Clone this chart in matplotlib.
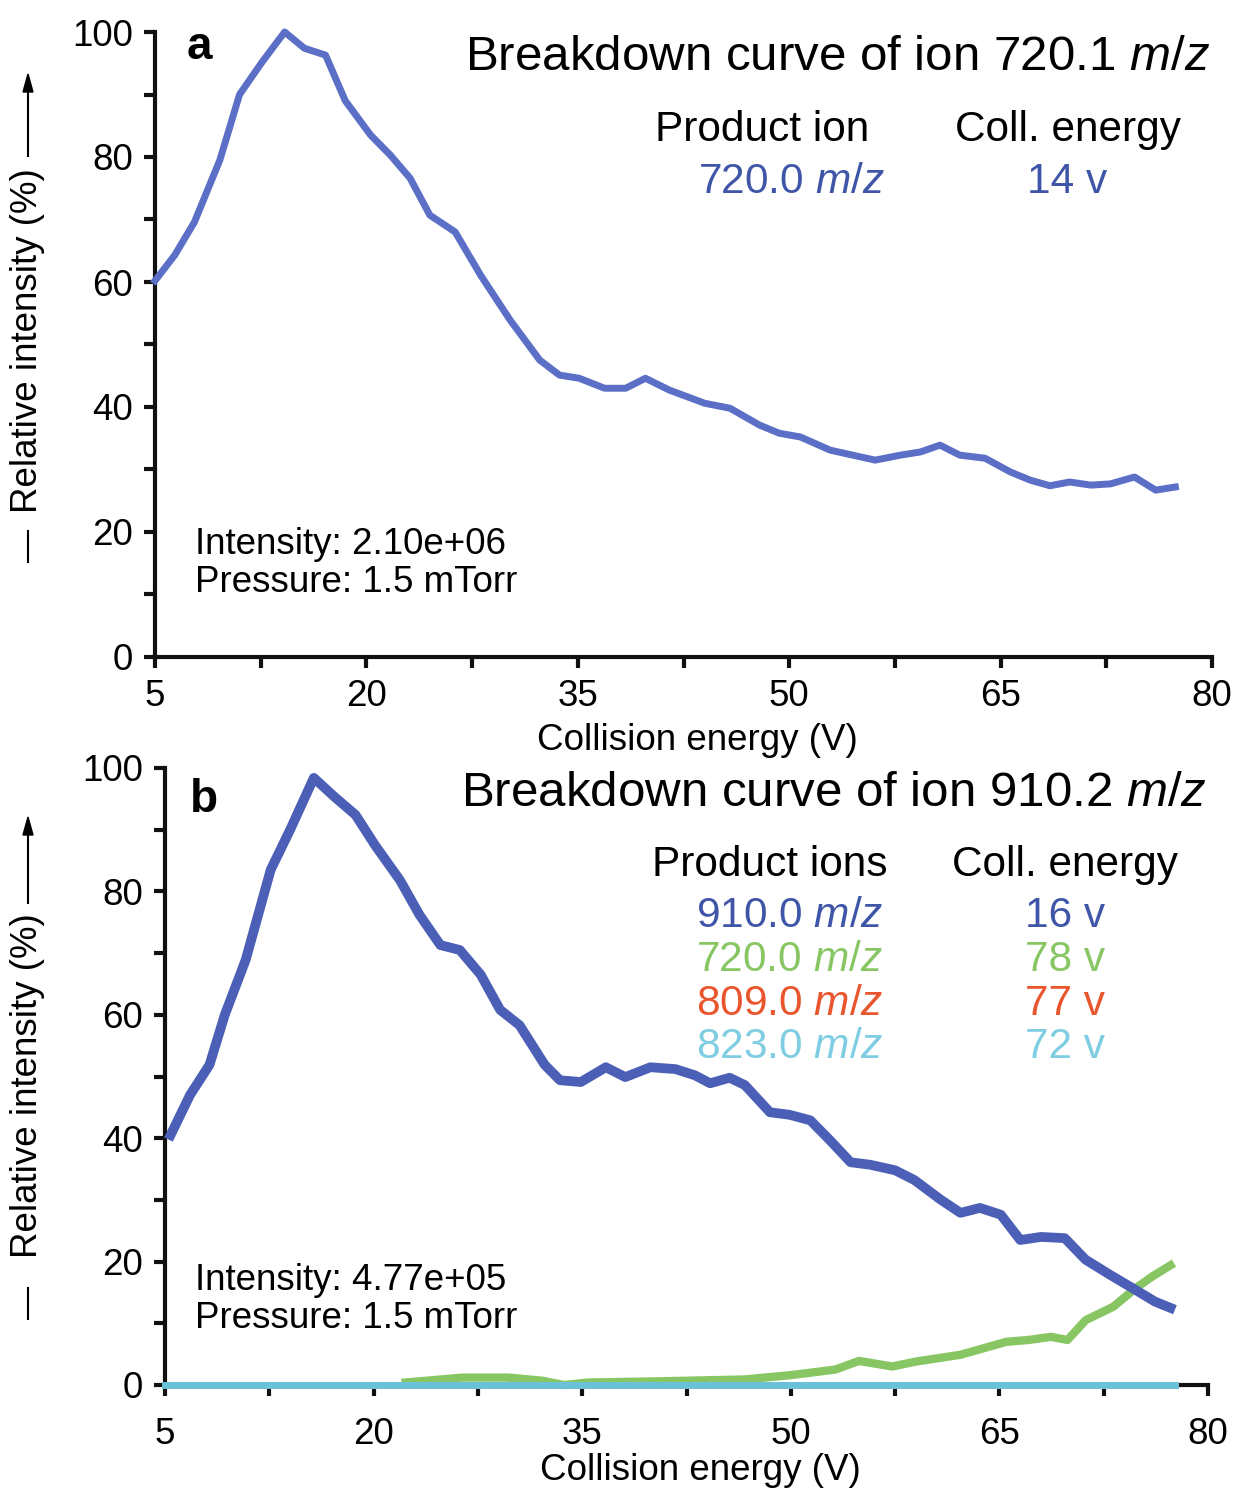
import numpy as np
import matplotlib.pyplot as plt

plt.rcParams['font.family'] = ['Liberation Sans', 'DejaVu Sans']
plt.rcParams['mathtext.fontset'] = 'custom'
plt.rcParams['mathtext.rm'] = 'Liberation Sans'
plt.rcParams['mathtext.it'] = 'Liberation Sans:italic'

# panel a: breakdown of ion 720.1 m/z (product 720.0)
a_energy = [5.0, 6.4, 7.8, 9.6, 11.0, 12.6, 14.2, 15.6, 17.1, 18.5, 20.3, 21.7, 23.1,
            24.5, 26.3, 28.1, 30.2, 32.3, 33.7, 35.1, 36.9, 38.4, 39.8, 41.5, 44.0,
            45.8, 47.9, 49.3, 50.8, 52.9, 54.7, 56.1, 57.9, 59.3, 60.7, 62.1, 63.9,
            65.7, 67.1, 68.5, 69.9, 71.4, 72.8, 74.5, 76.0, 77.4]
a_720 = [60.2, 64.3, 69.6, 79.5, 90.0, 95.2, 100.0, 97.4, 96.3, 89.0, 83.5, 80.3, 76.6,
         70.7, 68.0, 61.1, 53.9, 47.5, 45.1, 44.6, 43.0, 43.0, 44.6, 42.7, 40.6,
         39.8, 37.1, 35.8, 35.2, 33.1, 32.2, 31.5, 32.3, 32.8, 33.9, 32.3, 31.8,
         29.6, 28.3, 27.4, 28.0, 27.5, 27.7, 28.8, 26.7, 27.2]

# panel b: breakdown of ion 910.2 m/z
b_energy = [5.4, 6.8, 8.2, 9.3, 10.8, 12.6, 14.0, 15.7, 17.2, 18.7, 20.1, 21.9, 23.3,
            24.8, 26.2, 27.7, 29.1, 30.5, 32.3, 33.4, 34.9, 36.7, 38.1, 39.9, 41.7,
            43.1, 44.2, 45.6, 46.7, 48.5, 49.9, 51.4, 52.8, 54.3, 55.7, 57.5, 58.9,
            60.8, 62.2, 63.6, 65.1, 66.5, 68.0, 69.7, 71.2, 73.0, 74.8, 76.2, 77.3]
b_910 = [40.5, 47.0, 51.9, 60.0, 68.9, 83.5, 90.0, 98.4, 95.3, 92.4, 87.5, 81.8, 76.2,
         71.3, 70.5, 66.5, 60.8, 58.3, 51.9, 49.4, 49.1, 51.5, 49.9, 51.5, 51.2,
         50.2, 48.9, 49.8, 48.6, 44.2, 43.8, 42.9, 39.7, 36.1, 35.7, 34.8, 33.2,
         30.0, 27.9, 28.7, 27.6, 23.5, 24.0, 23.8, 20.3, 17.8, 15.4, 13.5, 12.5]

g_energy = [22.3, 26.4, 29.7, 32.1, 33.7, 35.4, 40.6, 46.7, 50.0, 53.2, 54.9, 57.3,
            59.0, 62.2, 65.5, 67.1, 68.7, 69.9, 71.2, 73.2, 74.8, 76.0, 77.3]
b_720 = [0.4, 1.2, 1.2, 0.7, 0.0, 0.4, 0.6, 0.9, 1.6, 2.5, 3.9, 3.0,
         3.8, 4.9, 7.0, 7.3, 7.8, 7.3, 10.5, 12.7, 15.7, 17.6, 19.4]

flat_energy = [5, 77.6]
b_809 = [0, 0]
b_823 = [0, 0]

x_major = [5, 20, 35, 50, 65, 80]
x_minor = [12.5, 27.5, 42.5, 57.5, 72.5]
y_major = [0, 20, 40, 60, 80, 100]
y_minor = [10, 30, 50, 70, 90]

blue_a = '#5b6fc6'
blue_b = '#4c5fb6'
blue_txt = '#3f56a8'
green = '#88c664'
red = '#e9552d'
cyan = '#69c2da'
cyan_txt = '#7fcde2'

W, H = 1236, 1494
fig = plt.figure(figsize=(W / 100, H / 100), dpi=100)


def fx(px):
    return px / W


def fy(py):
    return 1 - py / H


ax_a = fig.add_axes([fx(155), fy(657), fx(1212) - fx(155), fy(32) - fy(657)])
ax_b = fig.add_axes([fx(165), fy(1385), fx(1208) - fx(165), fy(768) - fy(1385)])

for ax, xpad, lpad in ((ax_a, 8, 6), (ax_b, 15, 1)):
    ax.set_xlim(5, 80)
    ax.set_ylim(0, 100)
    ax.spines['top'].set_visible(False)
    ax.spines['right'].set_visible(False)
    for s in ('left', 'bottom'):
        ax.spines[s].set_linewidth(3)
        ax.spines[s].set_color('#111111')
    ax.set_xticks(x_major)
    ax.set_xticks(x_minor, minor=True)
    ax.set_yticks(y_major)
    ax.set_yticks(y_minor, minor=True)
    ax.tick_params(which='both', direction='out', length=8, width=3, color='#111111',
                   labelsize=26.5, pad=8)
    ax.tick_params(axis='x', which='major', pad=xpad)
    ax.set_xlabel('Collision energy (V)', fontsize=26.5, labelpad=lpad)
    ax.xaxis.label.set_x(0.513)

ax_a.plot(a_energy, a_720, color=blue_a, lw=5, clip_on=False, zorder=3,
          solid_joinstyle='round')

ax_b.plot(flat_energy, b_809, color=red, lw=5, clip_on=False, zorder=3)
ax_b.plot(g_energy, b_720, color=green, lw=6, clip_on=False, zorder=3)
ax_b.plot(flat_energy, b_823, color=cyan, lw=5, clip_on=False, zorder=4)
ax_b.plot(b_energy, b_910, color=blue_b, lw=7, clip_on=False, zorder=5)

# y labels with dash and arrow
for cy, dash, arr in ((341, (531, 562), (156, 74)), (1086, (1288, 1319), (903, 817))):
    fig.text(fx(28), fy(cy), 'Relative intensity (%)', rotation=90, fontsize=26.5,
             ha='center', va='center')
    fig.add_artist(plt.Line2D([fx(28), fx(28)], [fy(dash[0]), fy(dash[1])],
                              color='k', lw=1.5, transform=fig.transFigure))
    fig.add_artist(plt.Line2D([fx(28), fx(28)], [fy(arr[0]), fy(arr[1] + 12)],
                              color='k', lw=1.5, transform=fig.transFigure))
    fig.add_artist(plt.Polygon([[fx(23), fy(arr[1] + 18)], [fx(33), fy(arr[1] + 18)],
                                [fx(28), fy(arr[1])]], closed=True, color='k',
                               transform=fig.transFigure))

# panel a texts
fig.text(fx(187), fy(47), 'a', fontsize=33, fontweight='bold', va='center')
fig.text(fx(1210), fy(57), r'Breakdown curve of ion 720.1 $\mathit{m/z}$', fontsize=35.5,
         ha='right', va='center')
fig.text(fx(655), fy(130), 'Product ion', fontsize=30.5, va='center')
fig.text(fx(955), fy(130), 'Coll. energy', fontsize=30.5, va='center')
fig.text(fx(885), fy(182), r'720.0 $\mathit{m/z}$', fontsize=30.5, color=blue_txt,
         ha='right', va='center')
fig.text(fx(1107), fy(182), '14 v', fontsize=30.5, color=blue_txt, ha='right', va='center')
fig.text(fx(195), fy(545), 'Intensity: 2.10e+06', fontsize=26.5, va='center')
fig.text(fx(195), fy(583), 'Pressure: 1.5 mTorr', fontsize=26.5, va='center')

# panel b texts
fig.text(fx(190), fy(800), 'b', fontsize=33, fontweight='bold', va='center')
fig.text(fx(1207), fy(793), r'Breakdown curve of ion 910.2 $\mathit{m/z}$', fontsize=35.5,
         ha='right', va='center')
fig.text(fx(652), fy(865), 'Product ions', fontsize=30.5, va='center')
fig.text(fx(952), fy(865), 'Coll. energy', fontsize=30.5, va='center')
ions = ['910.0', '720.0', '809.0', '823.0']
energies = ['16', '78', '77', '72']
colors = [blue_txt, green, red, cyan_txt]
rows_y = [916, 960, 1004, 1047]
for ion, en, c, yy in zip(ions, energies, colors, rows_y):
    fig.text(fx(883), fy(yy), ion + r' $\mathit{m/z}$', fontsize=30.5, color=c,
             ha='right', va='center')
    fig.text(fx(1105), fy(yy), en + ' v', fontsize=30.5, color=c, ha='right', va='center')
fig.text(fx(195), fy(1281), 'Intensity: 4.77e+05', fontsize=26.5, va='center')
fig.text(fx(195), fy(1319), 'Pressure: 1.5 mTorr', fontsize=26.5, va='center')

fig.savefig('out.png', dpi=100)
